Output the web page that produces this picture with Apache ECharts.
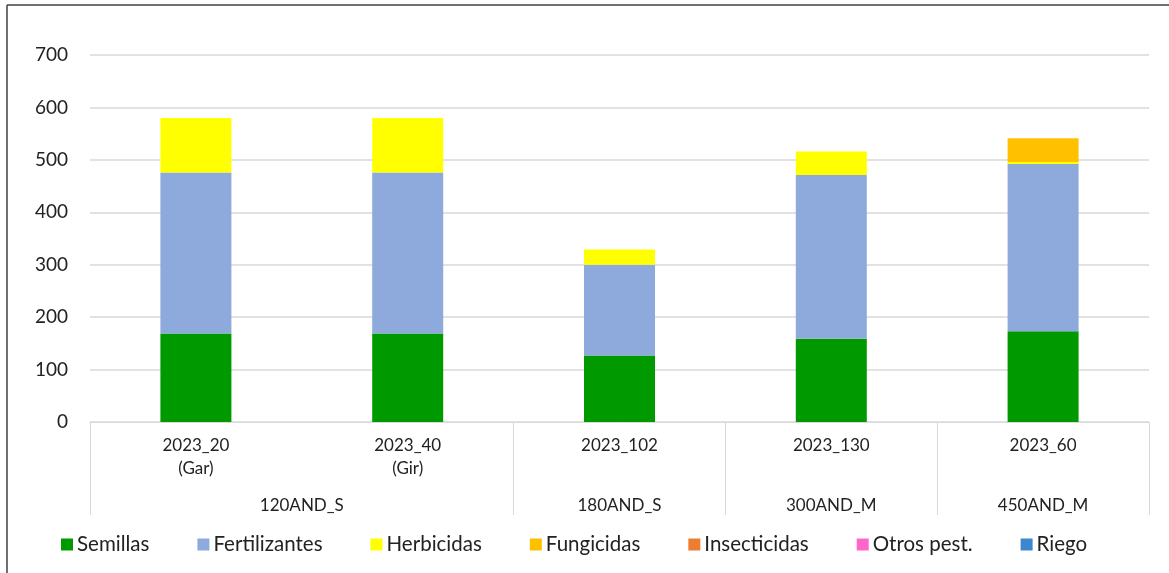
<!DOCTYPE html>
<html>
<head>
<meta charset="utf-8">
<script src="https://cdn.jsdelivr.net/npm/echarts@6/dist/echarts.min.js"></script>
<style>
  html, body { margin: 0; padding: 0; background: #fff; }
  #chart { width: 1169px; height: 573px; }
</style>
</head>
<body>
<div id="chart"></div>
<script>
// Categories (first level) and groups (second level)
var categories = ['2023_20\n(Gar)', '2023_40\n(Gir)', '2023_102', '2023_130', '2023_60'];
// second level on a half-step axis: group names sit at the middle of their span
var groupSlots = ['', '', '120AND_S', '', '', '180AND_S', '', '300AND_M', '', '450AND_M', ''];
var groupBounds = [0, 4, 6, 8, 10];

var seriesNames = ['Semillas', 'Fertilizantes', 'Herbicidas', 'Fungicidas', 'Insecticidas', 'Otros pest.', 'Riego'];
var semillas = [169, 169, 127, 159, 173];
var fertilizantes = [307, 307, 173, 312, 319];
var herbicidas = [104, 104, 29, 45, 4];
var fungicidas = [0, 0, 0, 0, 45];
var insecticidas = [0, 0, 0, 0, 0];
var otrosPest = [0, 0, 0, 0, 0];
var riego = [0, 0, 0, 0, 0];
var colors = ['#009900', '#8EA9DB', '#FFFF00', '#FFC000', '#ED7D31', '#FF66CC', '#3E87CD'];

var chartDom = document.getElementById('chart');
var myChart = echarts.init(chartDom);
var font = 'Lato, "DejaVu Sans", sans-serif';

var allData = [semillas, fertilizantes, herbicidas, fungicidas, insecticidas, otrosPest, riego];
var seriesData = allData.map(function (values, i) {
    return {
        name: seriesNames[i],
        type: 'bar',
        stack: 'total',
        barWidth: 71,
        itemStyle: { color: colors[i] },
        data: values
    };
});

var option = {
    animation: false,
    color: colors,
    textStyle: { fontFamily: font },
    grid: { left: 90, right: 20, top: 55, bottom: 151, containLabel: false },
    legend: {
        data: seriesNames,
        left: 56,
        top: 529,
        icon: 'rect',
        itemWidth: 12,
        itemHeight: 12,
        itemGap: 48,
        textStyle: { fontSize: 20.5, color: '#222', fontFamily: font, padding: [0, 0, 0, -1] }
    },
    xAxis: [
        {
            type: 'category',
            data: categories,
            axisLine: { lineStyle: { color: '#d9d9d9', width: 1 } },
            axisTick: { show: false },
            axisLabel: {
                margin: 12,
                fontSize: 17,
                lineHeight: 23,
                color: '#222',
                fontFamily: font,
                interval: 0,
                verticalAlign: 'top'
            }
        },
        {
            type: 'category',
            position: 'bottom',
            boundaryGap: false,
            data: groupSlots,
            axisLine: { show: false },
            axisTick: {
                show: true,
                length: 93,
                lineStyle: { color: '#d9d9d9', width: 1 },
                interval: function (index) { return groupBounds.indexOf(index) >= 0; }
            },
            axisLabel: {
                margin: 75,
                fontSize: 17,
                color: '#222',
                fontFamily: font,
                interval: 0
            }
        }
    ],
    yAxis: {
        type: 'value',
        min: 0,
        max: 700,
        interval: 100,
        axisLine: { show: false },
        axisTick: { show: false },
        splitLine: { lineStyle: { color: '#d9d9d9', width: 1.5 } },
        axisLabel: { fontSize: 19, color: '#222', fontFamily: font, margin: 22 }
    },
    series: seriesData,
    graphic: [
        { type: 'line', shape: { x1: 7, y1: 5, x2: 1169, y2: 5 }, style: { stroke: '#404040', lineWidth: 1.5 } },
        { type: 'line', shape: { x1: 7, y1: 5, x2: 7, y2: 573 }, style: { stroke: '#404040', lineWidth: 1.5 } }
    ]
};

myChart.setOption(option);
</script>
</body>
</html>
